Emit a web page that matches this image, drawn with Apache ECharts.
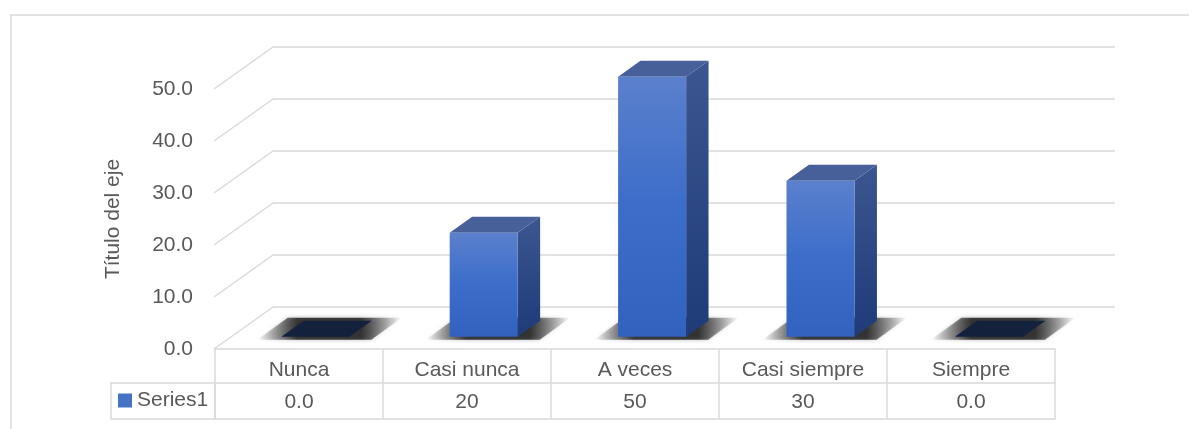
<!DOCTYPE html>
<html>
<head>
<meta charset="utf-8">
<style>
  html, body { margin: 0; padding: 0; background: #ffffff; }
  #chart { width: 1189px; height: 429px; }
</style>
<script src="https://cdn.jsdelivr.net/npm/echarts@6/dist/echarts.min.js"></script>
</head>
<body>
<div id="chart"></div>
<script>
// Survey answers and their counts
const categories = ['Nunca', 'Casi nunca', 'A veces', 'Casi siempre', 'Siempre'];
const values = [0, 20, 50, 30, 0];
const seriesName = 'Series1';
const axisTitle = 'Título del eje';
const valueTicks = [0, 10, 20, 30, 40, 50];

// Look of the pseudo-3D scene
const TEXT = '#595959';
const LINE = '#d9d9d9';
const FONT = 'Liberation Sans, Arial, sans-serif';
const FS = 21;
const DEPTH = [-59, 42];      // vector from back wall to front edge of the floor
const FRONT = 0.71;           // depth fraction of a bar's front face
const BACK = 0.33;            // depth fraction of a bar's back face
const BAR_RATIO = 0.404;      // bar width relative to the category band

// Value labels in the data table: whole numbers, zero shown with one decimal
const fmtTable = v => (v === 0 ? v.toFixed(1) : String(v));

const chart = echarts.init(document.getElementById('chart'), null, { renderer: 'canvas' });

function renderBar(params, api) {
  const i = api.value(0);
  const v = api.value(1);
  const base = api.coord([i, 0]);
  const top = api.coord([i, v]);
  const band = api.size([1, 0])[0];
  const w = band * BAR_RATIO;
  const l = base[0] - w / 2, r = base[0] + w / 2;
  const fx = DEPTH[0] * FRONT, fy = DEPTH[1] * FRONT;
  const bx = DEPTH[0] * BACK, by = DEPTH[1] * BACK;
  const FL = l + fx, FR = r + fx, BL = l + bx, BR = r + bx;
  const y0f = base[1] + fy, y1f = top[1] + fy;
  const y0b = base[1] + by, y1b = top[1] + by;

  const children = [];
  // soft contact shadow on the floor
  children.push({
    type: 'polygon',
    shape: { points: [[FL - 24, y0f + 3], [FR + 22, y0f + 3], [BR + 30, y0b - 3], [BL - 16, y0b - 3]] },
    style: {
      fill: new echarts.graphic.LinearGradient(0, 0, 1, 0, [
        { offset: 0, color: 'rgba(0,0,0,0)' },
        { offset: 0.28, color: 'rgba(0,0,0,0.72)' },
        { offset: 0.72, color: 'rgba(0,0,0,0.72)' },
        { offset: 1, color: 'rgba(0,0,0,0)' }
      ]),
      shadowBlur: 4,
      shadowColor: 'rgba(0,0,0,0.4)'
    },
    z2: 0
  });

  if (v === 0) {
    children.push({
      type: 'polygon',
      shape: { points: [[FL, y0f], [FR, y0f], [BR, y0b], [BL, y0b]] },
      style: { fill: '#13213d' },
      z2: 1
    });
  } else {
    // right side face
    children.push({
      type: 'polygon',
      shape: { points: [[FR, y1f], [BR, y1b], [BR, y0b], [FR, y0f]] },
      style: {
        fill: new echarts.graphic.LinearGradient(0, 0, 0, 1, [
          { offset: 0, color: '#3b5690' },
          { offset: 1, color: '#1f3b78' }
        ])
      },
      z2: 1
    });
    // top face
    children.push({
      type: 'polygon',
      shape: { points: [[FL, y1f], [FR, y1f], [BR, y1b], [BL, y1b]] },
      style: { fill: '#48609a' },
      z2: 1
    });
    // front face
    children.push({
      type: 'rect',
      shape: { x: FL, y: y1f, width: w, height: y0f - y1f },
      style: {
        fill: new echarts.graphic.LinearGradient(0, 0, 0, 1, [
          { offset: 0, color: '#5b80cd' },
          { offset: 0.5, color: '#3b6dc9' },
          { offset: 1, color: '#3162be' }
        ])
      },
      z2: 2
    });
  }
  return { type: 'group', children };
}

// Slanted side-wall lines joining back gridlines to the front value labels
function renderSlant(params, api) {
  const v = api.value(1);
  const p = api.coord([0, v]);
  const band = api.size([1, 0])[0];
  const x = p[0] - band / 2;
  return {
    type: 'line',
    shape: { x1: x, y1: p[1], x2: x + DEPTH[0], y2: p[1] + DEPTH[1] },
    style: { stroke: LINE, lineWidth: 1.5 }
  };
}

const option = {
  backgroundColor: '#ffffff',
  animation: false,
  textStyle: { fontFamily: FONT },
  grid: [
    { left: 273, right: 74, top: 47, bottom: 122 },   // back wall
    { left: 215, right: 134, top: 89, bottom: 80 }    // front plane + data table
  ],
  legend: {
    data: [seriesName],
    left: 118,
    top: 390,
    padding: 0,
    icon: 'rect',
    itemWidth: 14,
    itemHeight: 14,
    itemGap: 5,
    textStyle: { fontSize: FS, color: TEXT, fontFamily: FONT, padding: [0, 0, 0, 0] }
  },
  xAxis: [
    {
      type: 'category', gridIndex: 0, data: categories,
      axisLine: { show: false }, axisTick: { show: false }, axisLabel: { show: false },
      splitLine: { show: false }
    },
    {
      type: 'category', gridIndex: 1, data: categories,
      axisLine: { show: true, lineStyle: { color: LINE, width: 1.5 } },
      axisTick: { show: true, length: 70, interval: 0, lineStyle: { color: LINE, width: 1.5 } },
      axisLabel: { interval: 0, margin: 4, fontSize: FS, lineHeight: 34, color: TEXT, fontFamily: FONT }
    },
    {
      type: 'category', gridIndex: 1, data: categories, position: 'bottom', offset: 34,
      axisLine: { show: true, lineStyle: { color: LINE, width: 1.5 } },
      axisTick: { show: false },
      axisLabel: {
        interval: 0, margin: 1, fontSize: FS, lineHeight: 36, color: TEXT, fontFamily: FONT,
        formatter: (val, idx) => fmtTable(values[idx])
      }
    },
    {
      type: 'category', gridIndex: 1, data: categories, position: 'bottom', offset: 70,
      axisLine: { show: true, lineStyle: { color: LINE, width: 1.5 } },
      axisTick: { show: false }, axisLabel: { show: false }
    }
  ],
  yAxis: [
    {
      type: 'value', gridIndex: 0, min: 0, max: 50, interval: 10,
      axisLine: { show: false }, axisTick: { show: false }, axisLabel: { show: false },
      splitLine: { show: true, lineStyle: { color: LINE, width: 1.5 } }
    },
    {
      type: 'value', gridIndex: 1, min: 0, max: 50, interval: 10,
      axisLine: { show: false }, axisTick: { show: false },
      splitLine: { show: false },
      axisLabel: { margin: 22, fontSize: FS, color: TEXT, fontFamily: FONT, formatter: v => v.toFixed(1) },
      name: axisTitle, nameLocation: 'middle', nameGap: 91, nameRotate: 90,
      nameTextStyle: { fontSize: FS, color: TEXT, fontFamily: FONT }
    }
  ],
  series: [
    {
      type: 'custom', name: 'walls', xAxisIndex: 0, yAxisIndex: 0,
      renderItem: renderSlant, clip: false, silent: true, z: 1,
      data: valueTicks.map(t => [0, t])
    },
    {
      type: 'custom', name: seriesName, xAxisIndex: 0, yAxisIndex: 0,
      renderItem: renderBar, clip: false, z: 3,
      itemStyle: { color: '#4472c4' },
      encode: { x: 0, y: 1 },
      data: values.map((v, i) => [i, v])
    }
  ],
  graphic: [
    {
      type: 'rect', z: -1, silent: true,
      shape: { x: 11, y: 15, width: 1300, height: 600 },
      style: { fill: 'none', stroke: LINE, lineWidth: 1.5 }
    },
    {
      type: 'rect', silent: true,
      shape: { x: 111, y: 383, width: 104, height: 36 },
      style: { fill: 'none', stroke: LINE, lineWidth: 1.5 }
    }
  ]
};

chart.setOption(option);
</script>
</body>
</html>
